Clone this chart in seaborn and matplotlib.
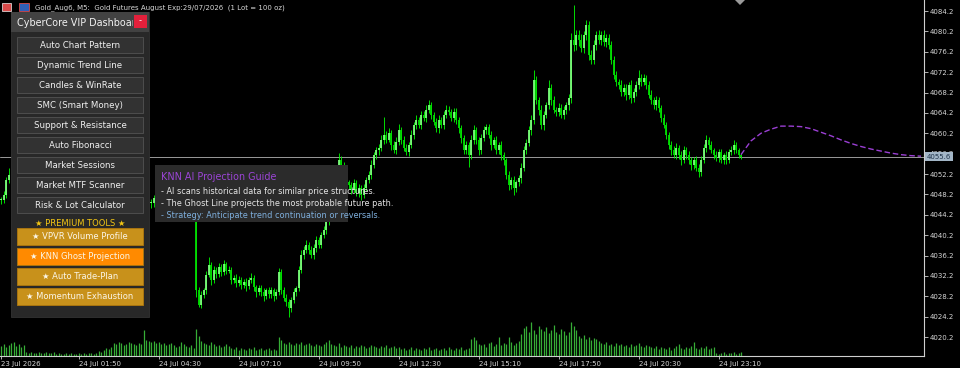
import numpy as np
import pandas as pd
import matplotlib
matplotlib.use("Agg")
import matplotlib.pyplot as plt
from matplotlib.patches import Rectangle, Polygon
from matplotlib.transforms import Bbox, TransformedBbox
import seaborn as sns

nan = np.nan

# ---------------- data ----------------
# M5 closes, one per bar; bars hidden behind the dashboard are unknown (nan)
close = [
    4047.1, 4048.1, 4051.0, 4052.0,
    nan, nan, nan, nan, nan, nan, nan, nan, nan, nan, nan, nan, nan, nan,
    nan, nan, nan, nan, nan, nan, nan, nan, nan, nan, nan, nan, nan, nan,
    nan, nan, nan, nan, nan, nan, nan, nan, nan, nan, nan, nan, nan, nan,
    nan, nan, nan, nan, nan, nan, nan, nan, nan, nan, nan, nan, nan, nan,
    4046.5, 4047.5, 4046.0, 4047.0, 4048.0, 4049.0, 4048.5, 4047.5, 4048.0, 4049.5,
    4050.0, 4049.0, 4048.0, 4047.0, 4046.5, 4047.5, 4046.0, 4045.0,
    4029.4, 4026.5, 4028.5, 4029.4, 4032.4, 4034.3, 4031.4, 4033.4, 4032.5, 4034.0,
    4033.0, 4034.5, 4033.2, 4033.4, 4031.4, 4031.8, 4030.8, 4031.4, 4030.4, 4031.0,
    4030.2, 4031.4,
    4031.8, 4030.0, 4029.0, 4029.8, 4029.0, 4028.2, 4029.4, 4028.6, 4029.4, 4028.2,
    4029.0, 4033.0, 4029.4, 4027.9, 4027.1, 4025.9, 4027.5, 4029.0, 4029.8, 4033.4,
    4036.3, 4037.3, 4038.3, 4037.3, 4036.3, 4037.7, 4039.2, 4038.3, 4040.2, 4041.2,
    4042.8, 4045.1, 4048.1, 4050.0, 4052.0, 4055.0, 4054.0, 4052.0, 4050.6, 4050.0,
    4049.1, 4050.4, 4048.5, 4049.5, 4048.1, 4049.5, 4051.0, 4052.0, 4054.0, 4055.9,
    4056.9, 4057.3, 4058.9, 4059.9, 4058.9, 4060.2, 4057.9, 4056.9, 4058.5, 4060.8,
    4058.9, 4057.3, 4056.5, 4057.9, 4059.9, 4061.8, 4062.8, 4061.8, 4063.8, 4063.2,
    4064.8, 4065.7, 4063.8, 4062.4, 4061.2, 4062.8, 4061.8, 4063.8, 4064.8, 4064.4,
    4063.2, 4064.4, 4062.8, 4061.2, 4059.3, 4056.9, 4057.9, 4055.9, 4058.9, 4060.8,
    4058.9, 4056.9, 4059.3, 4060.8, 4061.4, 4059.9, 4057.9, 4058.9, 4056.9, 4057.9,
    4055.9, 4054.9, 4052.0, 4050.0, 4051.0, 4049.5, 4050.6, 4051.4, 4053.4, 4056.9,
    4058.3, 4060.8, 4062.8, 4070.7, 4066.7, 4064.8, 4061.8, 4063.8, 4065.7, 4069.1,
    4066.7, 4064.8, 4064.4, 4065.2, 4063.8, 4064.8, 4065.7, 4067.1, 4078.5, 4077.5,
    4079.5, 4078.5, 4076.9, 4079.5, 4081.5, 4075.6, 4074.6, 4077.5, 4079.5, 4078.5,
    4079.5, 4078.1, 4078.9, 4077.5, 4074.6, 4071.6, 4070.3, 4069.7, 4068.3, 4069.1,
    4067.7, 4069.7, 4067.1, 4068.3, 4069.7, 4071.1, 4070.3, 4071.1, 4069.7, 4067.7,
    4066.7, 4065.7, 4066.7, 4065.2, 4063.2, 4061.8, 4059.9, 4057.9, 4056.9, 4055.9,
    4057.3, 4055.9, 4054.9, 4056.9, 4055.9, 4054.9, 4053.9, 4054.9, 4053.4, 4052.6,
    4054.9, 4057.3, 4058.9, 4057.9, 4056.9, 4055.9, 4055.3, 4056.5, 4054.9, 4055.9,
    4054.9, 4056.5, 4056.9, 4057.9, 4056.9, 4055.9, 4055.6,
]

# wick length above the body / below the body (price units)
wick_up = [
    0.5, 0.8, 0.6, 1.4,
    nan, nan, nan, nan, nan, nan, nan, nan, nan, nan, nan, nan, nan, nan,
    nan, nan, nan, nan, nan, nan, nan, nan, nan, nan, nan, nan, nan, nan,
    nan, nan, nan, nan, nan, nan, nan, nan, nan, nan, nan, nan, nan, nan,
    nan, nan, nan, nan, nan, nan, nan, nan, nan, nan, nan, nan, nan, nan,
    0.8, 0.6, 0.9,
    0.5, 0.7, 0.6, 0.8, 0.5, 0.7, 0.6, 0.5, 0.8, 0.6, 0.5, 0.7, 0.6, 0.5, 0.6,
    0.3,
    0.6, 0.8, 0.5, 0.7, 1.6, 0.6, 0.8, 0.5, 0.7, 0.6, 0.9, 0.5, 0.7,
    0.6, 0.5, 0.7, 0.8, 0.5, 0.6, 0.7, 0.5, 0.9, 0.6, 0.5, 0.7, 0.6, 0.8, 0.5, 0.6, 0.7, 0.5, 0.6,
    0.8,
    0.5, 0.6, 0.7, 0.5, 0.6, 0.8, 0.5, 0.7, 1.0, 0.8, 0.9, 0.6, 0.7, 0.8, 0.9, 0.6, 0.7, 0.8, 0.9,
    0.8, 0.7, 0.9, 0.6,
    1.3,
    0.7, 0.6, 0.8, 0.5, 0.7, 0.9, 0.6, 0.8, 0.5, 0.7, 0.6, 0.8, 0.9, 0.7, 0.6, 0.8, 0.9,
    3.5,
    0.8, 1.0, 0.6, 0.7, 0.9, 1.2, 0.6, 0.7, 0.8, 0.6, 0.9, 0.7, 1.0, 0.6, 0.8, 0.7, 0.9,
    1.0,
    0.7, 0.6, 0.8, 0.9, 0.6, 0.7, 1.0, 0.8, 0.6, 0.7, 0.8, 0.6, 0.7, 0.5, 0.8, 0.6, 0.9, 1.0, 0.7, 0.6,
    0.8, 0.9, 0.7, 0.6, 0.8, 0.5, 0.7, 0.6, 0.8, 0.6, 0.5, 0.7, 0.6, 0.8, 0.5, 0.7, 0.9, 0.8, 0.7, 0.9,
    1.0,
    2.0,
    0.8, 0.7, 0.9, 0.8, 0.7,
    1.6,
    0.7, 0.8, 0.6, 0.9, 0.7, 0.8, 0.6, 0.9, 1.4,
    6.8,
    1.0, 0.9, 1.2, 0.8,
    1.0,
    0.8, 0.9, 1.0, 0.7, 0.9, 0.8, 1.0, 0.7, 0.8, 0.9, 0.7, 0.8, 0.6, 0.9, 0.7, 0.8, 0.6, 0.9, 0.7, 0.8,
    1.6,
    0.7, 0.8, 0.6, 0.7, 0.9, 0.6, 0.8, 0.7, 0.6, 0.8, 0.7, 0.6, 0.8, 0.7, 0.9, 0.6, 0.8, 0.7, 0.6, 0.8,
    0.7, 0.6, 0.8, 0.7, 0.9, 0.8,
    1.0,
    0.6, 0.7, 0.5, 0.8, 0.6, 0.7, 0.5, 0.8, 0.6, 0.7,
    1.0,
    0.6, 0.5, 0.4,
]

wick_dn = [
    0.8, 0.6, 0.7, 0.5,
    nan, nan, nan, nan, nan, nan, nan, nan, nan, nan, nan, nan, nan, nan,
    nan, nan, nan, nan, nan, nan, nan, nan, nan, nan, nan, nan, nan, nan,
    nan, nan, nan, nan, nan, nan, nan, nan, nan, nan, nan, nan, nan, nan,
    nan, nan, nan, nan, nan, nan, nan, nan, nan, nan, nan, nan, nan, nan,
    0.9, 0.7, 0.8,
    0.6, 0.5, 0.7, 0.6, 0.8, 0.5, 0.6, 0.7, 0.5, 0.6, 0.8, 0.5, 0.7, 0.6, 0.5,
    1.4,
    0.5, 0.7, 0.6, 0.8, 0.5, 0.9, 0.6, 0.7, 0.5, 0.8, 0.6, 0.7, 0.5,
    0.7, 0.6, 0.8, 0.5, 0.7, 0.6, 0.9, 0.5, 0.6, 0.8, 1.0, 0.6, 0.7, 0.9, 0.6, 0.8, 0.7, 0.9, 0.6,
    0.6, 0.8, 0.7, 0.9,
    1.8,
    0.8, 0.6, 0.7, 0.5, 0.6, 0.8, 0.7, 0.9, 0.6, 0.7, 0.8, 0.6, 0.7, 0.5, 0.8, 0.6, 0.7, 0.9, 0.6, 0.8,
    0.5, 0.7, 0.6, 0.8, 0.9, 0.6, 0.7, 0.8,
    1.0,
    0.6, 0.7, 0.5, 0.8, 0.6, 0.7, 0.9, 0.6, 0.8, 0.7, 0.5, 0.9, 0.6, 0.8, 0.7, 0.9, 0.6, 0.5, 0.7, 0.6,
    0.8, 0.7, 0.6, 0.8, 0.5, 0.7, 0.6, 0.8, 0.6, 0.7, 0.9, 0.6, 0.8, 0.7, 0.6, 0.5, 0.8, 0.7, 0.9, 1.0,
    0.8, 0.7,
    2.3,
    0.7, 0.8, 0.9, 1.0, 0.7, 0.6, 0.8, 0.7, 0.9, 0.6, 0.8, 0.7, 0.9, 1.0, 0.8, 0.9, 0.7,
    1.4,
    0.8, 0.7, 0.9, 0.6, 0.8, 0.7, 0.9, 0.8, 0.7, 1.0,
    0.8, 0.9, 0.7, 0.8, 1.0, 0.7, 0.9, 0.8, 0.7, 0.9,
    0.8, 0.9, 1.0, 1.1, 0.9, 1.2, 0.8, 1.0, 0.9, 1.1,
    0.8, 0.9, 1.0, 0.8, 0.9, 0.7, 1.0, 0.8, 0.9, 0.7,
    0.8, 0.9, 0.7, 0.8, 1.0, 0.7, 0.9, 0.8, 0.7, 0.9,
    0.8, 0.7, 0.9, 0.6, 0.8, 0.7, 0.9, 0.8, 0.7, 0.6,
    0.8, 0.7, 0.9, 0.6, 0.8, 0.7, 0.9, 0.6, 0.8, 0.7,
    0.9, 0.8, 0.7,
    1.0,
    0.7, 0.6, 0.8, 0.7, 0.6, 0.8, 0.5, 0.7, 0.6, 0.8, 0.7, 0.5, 0.6, 0.7, 0.6, 0.5, 0.4,
]

# tick volume per bar
volume = [
    10, 12, 9, 11, 13, 14, 10, 12, 9, 11,
    4, 3, 4, 3, 3, 4, 3, 3, 4, 3, 3, 4,
    2, 3, 2, 2, 3, 2, 3, 2, 2, 3, 2, 3, 2, 3, 3, 2, 3,
    5, 4, 6, 8, 7, 9,
    13, 12, 14, 13, 11, 12, 14, 13, 12, 11, 13, 12,
    26,
    16, 15, 14, 15, 13, 14, 12, 13, 11, 12, 13, 11,
    9, 10, 14, 12, 10, 9, 11, 8,
    27, 20, 15,
    13, 12, 11, 14, 12, 10, 11, 9, 10, 12, 10,
    8, 7, 9, 6, 8, 7, 6, 8, 7, 9, 6, 7, 8, 6, 7, 8, 6, 7, 6,
    19, 16,
    13, 12, 14, 12, 11, 13, 12, 14, 11, 12, 13, 11, 10, 12, 11,
    10, 12, 14, 16, 12, 11, 10, 13, 9, 11,
    10, 9, 11, 8, 10, 9, 11, 10, 8, 9, 11, 10, 9, 8, 10, 9, 11, 8, 9, 10, 8, 9,
    7, 8, 6, 7, 9, 6, 8, 7, 6, 8, 7, 9, 6, 7, 8, 6, 7, 8, 6, 9, 7, 6, 8, 7, 9, 6, 7, 8,
    17, 19, 16, 12,
    11, 12, 9, 13, 14, 10, 12, 19, 11, 13, 12, 19, 14, 11, 13, 15,
    22, 28, 30, 24, 34, 26, 22, 30, 27, 25, 29, 23, 26, 31, 24, 22, 27, 25, 21, 24, 34, 30, 26,
    20, 18, 21, 17, 19, 16, 18, 17, 15,
    13, 12, 14, 11, 12, 10, 13, 11, 12, 10, 11, 9, 12, 10, 11, 13, 10, 9, 11, 10,
    9, 8, 10, 7, 9, 8, 7, 9, 6, 8, 10, 12, 8, 7, 9, 8, 10, 14, 8, 7,
    9, 8, 10, 7, 8, 9,
    3, 2, 3, 4, 2, 3, 3, 4, 2, 3, 4,
]

# KNN ghost projection (bar index, price)
proj_idx = [296, 300, 304, 308, 312, 316, 320, 324, 328, 332,
            336, 340, 344, 348, 352, 356, 360, 364, 368]
proj_price = [4056.0, 4058.7, 4060.2, 4061.0, 4061.6, 4061.6, 4061.5, 4061.1, 4060.4, 4059.7,
              4058.9, 4058.2, 4057.6, 4057.1, 4056.7, 4056.3, 4056.0, 4055.8, 4055.7]

last_price = 4055.6
y_ticks = [4020.2, 4024.2, 4028.2, 4032.2, 4036.2, 4040.2, 4044.2, 4048.2,
           4052.2, 4056.2, 4060.2, 4064.2, 4068.2, 4072.2, 4076.2, 4080.2, 4084.2]
x_tick_idx = [0, 31, 63, 95, 127, 159, 191, 223, 255, 287]
x_tick_labels = ["23 Jul 2026", "24 Jul 01:50", "24 Jul 04:30", "24 Jul 07:10",
                 "24 Jul 09:50", "24 Jul 12:30", "24 Jul 15:10", "24 Jul 17:50",
                 "24 Jul 20:30", "24 Jul 23:10"]

chart_title = "Gold_Aug6, M5:  Gold Futures August Exp:29/07/2026  (1 Lot = 100 oz)"
panel_title = "CyberCore VIP Dashboard"
menu_items = ["Auto Chart Pattern", "Dynamic Trend Line", "Candles & WinRate",
              "SMC (Smart Money)", "Support & Resistance", "Auto Fibonacci",
              "Market Sessions", "Market MTF Scanner", "Risk & Lot Calculator"]
premium_label = "★ PREMIUM TOOLS ★"
premium_items = ["★ VPVR Volume Profile", "★ KNN Ghost Projection",
                 "★ Auto Trade-Plan", "★ Momentum Exhaustion"]
premium_active = 1
guide_title = "KNN AI Projection Guide"
guide_lines = ["- AI scans historical data for similar price structures.",
               "- The Ghost Line projects the most probable future path.",
               "- Strategy: Anticipate trend continuation or reversals."]
guide_colors = ["#e6e6e6", "#e6e6e6", "#7fb0de"]

# ---------------- style ----------------
sns.set_theme(style="dark", rc={"axes.facecolor": "black", "figure.facecolor": "black"})
plt.rcParams["font.family"] = ["DejaVu Sans"]

W, H = 960, 368
fig = plt.figure(figsize=(W / 100, H / 100), dpi=100, facecolor="black")
ax = fig.add_axes([0, 12 / H, 924 / W, 356 / H])
ax.set_facecolor("black")
ax.grid(False)
ax_v = ax.twinx()

n = min(len(close), len(wick_up), len(wick_dn), len(volume))
c = np.array(close[:n], float)
wu = np.array(wick_up[:n], float)
wd = np.array(wick_dn[:n], float)
vol = np.array(volume[:n], float)
idx = np.arange(n)
o = np.empty(n)
o[0] = c[0]
o[1:] = c[:-1]
o = np.where(np.isnan(o), c, o)
top = np.fmax(o, c)
bot = np.fmin(o, c)
hi = top + wu
lo = bot - wd
body_top = np.where(top - bot < 0.2, bot + 0.2, top)
ok = ~np.isnan(c)
bull = ok & (c >= o)
bear = ok & (c < o)

# volume histogram (bottom strip)
ax_v.vlines(idx, 0, vol, color="#36ad36", lw=0.9)
ax_v.set_ylim(0, 356)
ax_v.set_axis_off()

# candles
ax.vlines(idx[ok], lo[ok], hi[ok], color="#00ff00", lw=0.6, zorder=3)
ax.vlines(idx[bull], bot[bull], body_top[bull], color="#7dff7d", lw=1.3, zorder=4)
ax.vlines(idx[bear], bot[bear], body_top[bear], color="#00e000", lw=1.3, zorder=4)

# last price line
ax.axhline(last_price, color="#9a9a9a", lw=0.7, zorder=2)

# projection ghost line
proj_df = pd.DataFrame({"bar": proj_idx, "price": proj_price})
sns.lineplot(data=proj_df, x="bar", y="price", ax=ax, color="#9b3fd4", lw=1.0,
             linestyle=(0, (4, 2)), zorder=5)

ax.set_xlim(-0.4, 369.2)
ax.set_ylim(4016.47, 4086.36)
ax.set_xlabel("")
ax.set_ylabel("")

for side in ["top", "left"]:
    ax.spines[side].set_visible(False)
for side in ["bottom", "right"]:
    ax.spines[side].set_visible(True)
    ax.spines[side].set_color("#cfcfcf")
    ax.spines[side].set_linewidth(0.8)

ax.yaxis.tick_right()
ax.set_yticks(y_ticks)
ax.set_yticklabels([f"{v:.1f}" for v in y_ticks])
ax.tick_params(axis="y", which="both", right=True, left=False, labelright=True, labelleft=False,
               length=3, width=0.6, color="#cfcfcf", labelcolor="#d6d6d6", labelsize=5.0,
               pad=1.2, direction="out")
ax.set_xticks(x_tick_idx)
ax.set_xticklabels(x_tick_labels)
ax.tick_params(axis="x", bottom=True, length=2.5, width=0.6, color="#cfcfcf",
               labelcolor="#d6d6d6", labelsize=5.0, pad=1.0, direction="out")
for lbl in ax.get_xticklabels():
    lbl.set_ha("left")

# current price tag (drawn over the 4056.2 scale label as in the terminal)
ax.text(1.0 + 3 / 924, last_price, f"{last_price:.1f}", transform=ax.get_yaxis_transform(),
        ha="left", va="center", fontsize=5.0, color="#20344a", zorder=30, clip_on=False,
        bbox=dict(boxstyle="square,pad=0.22", fc="#a3b6c7", ec="none"))

# ---------------- overlay in pixel coordinates ----------------
ov = fig.add_axes([0, 0, 1, 1], zorder=10)
ov.set_xlim(0, W)
ov.set_ylim(H, 0)
ov.set_axis_off()
ov.patch.set_alpha(0)

# window title + icons
ov.add_patch(Rectangle((2, 3), 9, 8, fc="#d84a4a", ec="#f0f0f0", lw=0.5))
ov.add_patch(Rectangle((19, 3), 10, 8, fc="#2f5fb8", ec="#d84a4a", lw=0.6))
ov.text(35, 7.5, chart_title, fontsize=5.0, color="#d8d8d8", ha="left", va="center")
ov.add_patch(Polygon([(735, 0), (740, 5), (745, 0)], closed=True, fc="#9a9a9a", ec="none"))

# dashboard panel
ov.add_patch(Rectangle((11, 12), 138, 305, fc="#282828", ec="#333333", lw=0.6))
ov.add_patch(Rectangle((11, 12), 138, 20, fc="#424242", ec="none"))
t_title = ov.text(17, 22.5, panel_title, fontsize=6.9, color="#f2f2f2", ha="left", va="center")
t_title.set_clip_box(TransformedBbox(Bbox([[11, 12], [133, 32]]), ov.transData))
t_title.set_clip_on(True)
ov.add_patch(Rectangle((134, 15), 13, 13, fc="#e3203b", ec="none", zorder=5))
ov.text(140.5, 21, "-", fontsize=6, color="white", ha="center", va="center", zorder=6)

for k, item in enumerate(menu_items):
    ytop = 37 + 20 * k
    ov.add_patch(Rectangle((17, ytop), 126, 16, fc="#323232", ec="#4e4e4e", lw=0.7))
    ov.text(80, ytop + 8.3, item, fontsize=6.2, color="#f0f0f0", ha="center", va="center")

ov.text(80, 223, premium_label, fontsize=6.0, color="#f2c514", ha="center", va="center")
for k, item in enumerate(premium_items):
    ytop = 228 + 20 * k
    fc = "#ff8a00" if k == premium_active else "#c8911b"
    ov.add_patch(Rectangle((17, ytop), 126, 17, fc=fc, ec="#a87410", lw=0.7))
    ov.text(80, ytop + 8.8, item, fontsize=6.0, color="#fbf6e8", ha="center", va="center")

# guide tooltip (text runs past the box, as in the terminal)
ov.add_patch(Rectangle((155, 165), 193, 57, fc="#2b2b2b", ec="none"))
ov.text(161, 176.5, guide_title, fontsize=6.9, color="#9b45d6", ha="left", va="center")
for k, (line, col) in enumerate(zip(guide_lines, guide_colors)):
    ov.text(161, 191 + 12.3 * k, line, fontsize=5.85, color=col, ha="left", va="center")

fig.savefig("out.png", dpi=100, facecolor="black")
